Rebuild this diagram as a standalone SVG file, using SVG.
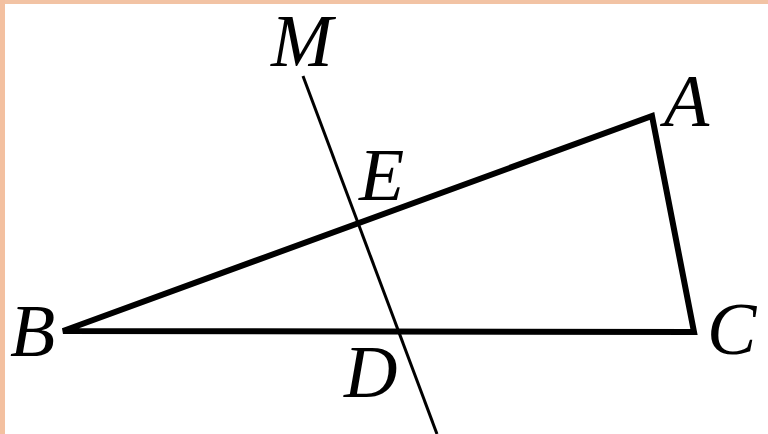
<svg xmlns="http://www.w3.org/2000/svg" width="768" height="434" viewBox="0 0 768 434">
<style>
.lbl{font-family:"Liberation Serif","Times New Roman",serif;font-style:italic;font-size:74px;fill:#000}
.tri{fill:none;stroke:#000;stroke-width:6;stroke-linejoin:miter}
.ln{stroke:#000;stroke-width:3;fill:none}
</style>
<rect width="768" height="434" fill="#fff"/>
<rect x="0" y="0" width="768" height="4" fill="#f2c3a4"/>
<rect x="0" y="0" width="5" height="434" fill="#f3c0a0"/>
<g id="connectors">
<polygon id="triangle" class="tri" points="63,331 652,116 694,332"/>
<line id="lineM" class="ln" x1="303" y1="76" x2="437" y2="434"/>
</g>
<g id="M"><text class="lbl" x="271" y="66">M</text></g>
<g id="A"><text class="lbl" x="664" y="126">A</text></g>
<g id="E"><text class="lbl" x="359" y="200">E</text></g>
<g id="B"><text class="lbl" x="10" y="356">B</text></g>
<g id="C"><text class="lbl" x="707" y="354">C</text></g>
<g id="D"><text class="lbl" x="344" y="397">D</text></g>
</svg>
